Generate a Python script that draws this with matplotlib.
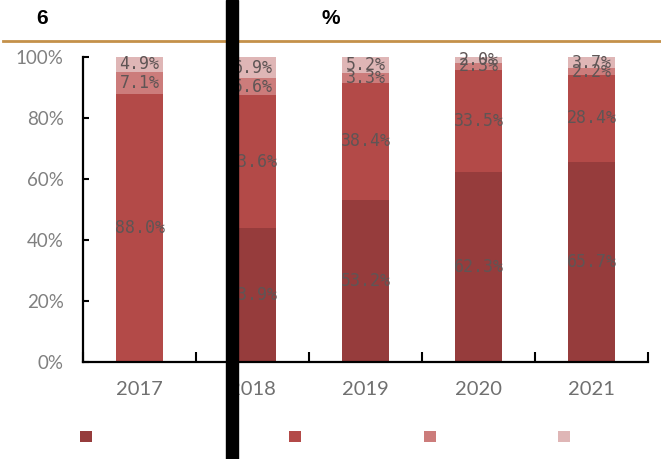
import matplotlib
matplotlib.use("Agg")
import matplotlib.pyplot as plt
from matplotlib.patches import Patch, Rectangle
import numpy as np

years = ["2017", "2018", "2019", "2020", "2021"]
series_names = ["", "", "", ""]
s1 = [0.0, 43.9, 53.2, 62.3, 65.7]
s2 = [88.0, 43.6, 38.4, 33.5, 28.4]
s3 = [7.1, 5.6, 3.3, 2.3, 2.2]
s4 = [4.9, 6.9, 5.2, 2.0, 3.7]
colors = ["#963c3c", "#b34a48", "#cc7c7b", "#dfb6b6"]
yticks = [0, 20, 40, 60, 80, 100]

fig = plt.figure(figsize=(6.61, 4.59), dpi=100)
ax = fig.add_axes([83/661, (459-362)/459, (648-83)/661, (362-57)/459])

x = np.arange(len(years))
bottom = np.zeros(len(years))
series = [s1, s2, s3, s4]
for vals, col in zip(series, colors):
    v = np.array(vals) / 100.0
    bars = ax.bar(x, v, width=0.41, bottom=bottom, color=col, zorder=2)
    labels = [f"{val:.1f}%" if val > 0 else "" for val in vals]
    ax.bar_label(bars, labels=labels, label_type="center", fontsize=12,
                 family="DejaVu Sans Mono", color="#5f5555", zorder=3)
    bottom += v

ax.set_xlim(-0.5, len(years) - 0.5)
ax.set_ylim(0, 1)
ax.set_yticks([t / 100 for t in yticks])
ax.set_yticklabels([f"{t}%" for t in yticks])
ax.set_xticks(x)
ax.set_xticklabels(years)
ax.set_xticks(np.arange(len(years) + 1) - 0.5, minor=True)

for s in ["top", "right"]:
    ax.spines[s].set_visible(False)
for s in ["left", "bottom"]:
    ax.spines[s].set_linewidth(1.6)
    ax.spines[s].set_color("black")

ax.tick_params(axis="y", direction="in", length=4, width=1.5, pad=14,
               labelsize=13.5, labelcolor="#808080")
ax.tick_params(axis="x", which="major", length=0, pad=14,
               labelsize=14.5, labelcolor="#707070")
ax.tick_params(axis="x", which="minor", direction="in", length=7, width=1.5)
for lab in ax.get_yticklabels() + ax.get_xticklabels():
    lab.set_fontfamily("Lato")

# header
fig.text(42/661, 1 - 18/459, "6", fontsize=15, fontweight="bold",
         family="Liberation Sans", ha="center", va="center", color="black")
fig.text(331/661, 1 - 18/459, "%", fontsize=15, fontweight="bold",
         family="Liberation Sans", ha="center", va="center", color="black")
fig.add_artist(plt.Line2D([3/661, 1], [1 - 41/459, 1 - 41/459],
                          transform=fig.transFigure, color="#c4914a", lw=2))

# legend
leg_x = [80, 289, 424, 558]
for lx, name, col in zip(leg_x, series_names, colors):
    fig.legend(handles=[Patch(facecolor=col)], labels=[name],
               loc="center left", bbox_to_anchor=(lx/661, 1 - 437/459),
               frameon=False, handlelength=0.85, handleheight=0.85,
               borderpad=0, borderaxespad=0, handletextpad=0.3)

# black redaction bar
fig.add_artist(Rectangle((226/661, 0), 12/661, 1, transform=fig.transFigure,
                         color="black", zorder=10))

fig.savefig("out.png", dpi=100)
